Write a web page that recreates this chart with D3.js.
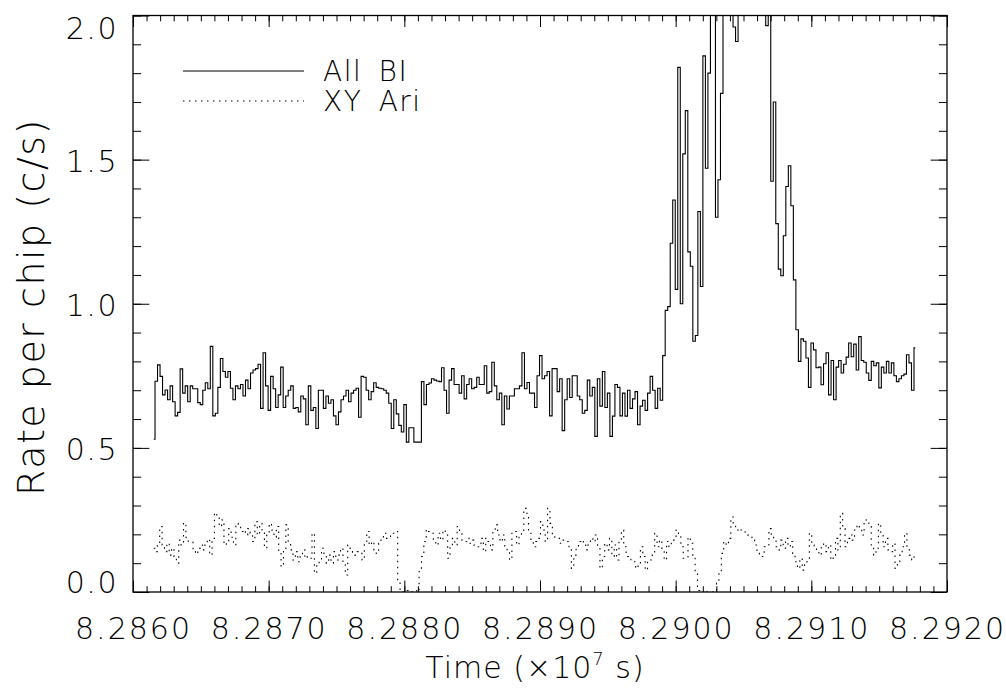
<!DOCTYPE html>
<html><head><meta charset="utf-8">
<script src="https://cdn.jsdelivr.net/npm/d3@7"></script>
<style>
html,body{margin:0;padding:0;background:#fff;}
svg{display:block;}
</style></head><body>
<svg id="chart" width="1006" height="690"></svg>
<script>
// ---------------- data ----------------
const xTickValues = [8.2860, 8.2870, 8.2880, 8.2890, 8.2900, 8.2910, 8.2920];
const xTickLabels = ["8.2860", "8.2870", "8.2880", "8.2890", "8.2900", "8.2910", "8.2920"];
const yTickValues = [0.0, 0.5, 1.0, 1.5, 2.0];
const yTickLabels = ["0.0", "0.5", "1.0", "1.5", "2.0"];
const seriesNames = ["All BI", "XY Ari"];
const xDomain = [8.2860, 8.2920];
const yDomain = [0.0, 2.0];
// first and last bin centres (x10^7 s)
const binTimeRange = [8.286153, 8.291766];

// Rate per chip (c/s), all BI chips
const allBI = [
 0.53, 0.731, 0.788, 0.748, 0.684, 0.701, 0.667, 0.715, 0.66, 0.611,
 0.623, 0.774, 0.69, 0.715, 0.66, 0.715, 0.705, 0.705, 0.657, 0.65,
 0.70, 0.726, 0.705, 0.852, 0.611, 0.62, 0.71, 0.81, 0.765, 0.745,
 0.765, 0.707, 0.667, 0.715, 0.705, 0.72, 0.68, 0.735, 0.705, 0.76,
 0.77, 0.775, 0.79, 0.637, 0.83, 0.715, 0.63, 0.748, 0.705, 0.64,
 0.684, 0.78, 0.64, 0.68, 0.70, 0.715, 0.637, 0.64, 0.625, 0.68,
 0.67, 0.58, 0.715, 0.63, 0.64, 0.567, 0.70, 0.70, 0.637, 0.68,
 0.655, 0.667, 0.611, 0.58, 0.625, 0.667, 0.68, 0.70, 0.66, 0.69,
 0.70, 0.707, 0.606, 0.748, 0.745, 0.70, 0.667, 0.695, 0.726, 0.71,
 0.707, 0.705, 0.70, 0.69, 0.655, 0.567, 0.667, 0.618, 0.578, 0.555,
 0.65, 0.52, 0.57, 0.57, 0.52, 0.52, 0.52,
 0.73, 0.65, 0.72, 0.725, 0.74, 0.735, 0.732, 0.73, 0.778, 0.70,
 0.62, 0.735, 0.775, 0.72, 0.72, 0.69, 0.75, 0.67, 0.72, 0.74,
 0.705, 0.71, 0.745, 0.72, 0.72, 0.785, 0.69, 0.695, 0.797, 0.715,
 0.667, 0.69, 0.58, 0.68, 0.635, 0.68, 0.68, 0.705, 0.705, 0.715,
 0.83, 0.705, 0.727, 0.69, 0.69, 0.64, 0.75, 0.82, 0.74, 0.75,
 0.765, 0.611, 0.775, 0.775, 0.695, 0.74, 0.56, 0.667, 0.74, 0.675,
 0.75, 0.75, 0.68, 0.667, 0.62, 0.63, 0.735, 0.68, 0.71, 0.54,
 0.74, 0.645, 0.765, 0.64, 0.69, 0.54, 0.61, 0.72, 0.71, 0.611,
 0.69, 0.61, 0.70, 0.637, 0.67, 0.695, 0.58, 0.645, 0.665, 0.63,
 0.69, 0.748, 0.70, 0.637, 0.707, 0.665, 0.82, 0.977, 0.99,
 1.21, 1.36, 1.05, 1.82, 1.00, 1.52, 1.67, 1.18, 1.13, 0.87,
 0.89, 1.32, 1.06, 1.86, 1.47, 1.80, 2.1, 2.1, 1.30, 1.43,
 1.73, 2.1, 2.1, 2.1, 2.1, 1.96, 1.91, 2.1, 2.1, 2.1,
 2.1, 2.1, 2.1, 2.1, 2.1, 2.1, 2.1, 2.1, 1.965, 2.1,
 1.425, 1.70, 1.278, 1.12, 1.097, 1.236, 1.407, 1.479, 1.34, 1.083,
 0.91, 0.80, 0.878, 0.87, 0.812, 0.71, 0.864, 0.84, 0.778, 0.78,
 0.719, 0.792, 0.83, 0.684, 0.803, 0.667, 0.78, 0.803, 0.76, 0.79,
 0.815, 0.864, 0.816, 0.86, 0.77, 0.886, 0.803, 0.797, 0.76, 0.734,
 0.80, 0.785, 0.795, 0.708, 0.78, 0.76, 0.80, 0.76, 0.795, 0.75,
 0.73, 0.74, 0.75, 0.756, 0.823, 0.795, 0.70, 0.847
];

// Rate per chip (c/s), XY Ari source region
const xyAri = [
 0.152, 0.14, 0.169, 0.227, 0.163, 0.14, 0.169, 0.128, 0.152, 0.123,
 0.10, 0.18, 0.163, 0.24, 0.19, 0.175, 0.175, 0.14, 0.132, 0.152,
 0.163, 0.146, 0.163, 0.183, 0.128, 0.186, 0.275, 0.26, 0.227, 0.25,
 0.163, 0.175, 0.22, 0.19, 0.163, 0.238, 0.227, 0.21, 0.215, 0.198,
 0.22, 0.204, 0.175, 0.244, 0.198, 0.238, 0.215, 0.152, 0.198, 0.238,
 0.215, 0.19, 0.227, 0.14, 0.088, 0.146, 0.233, 0.169, 0.146, 0.111,
 0.14, 0.105, 0.128, 0.146, 0.117, 0.123, 0.117, 0.204, 0.065, 0.10,
 0.111, 0.152, 0.123, 0.10, 0.128, 0.10, 0.14, 0.111, 0.128, 0.152,
 0.10, 0.059, 0.163, 0.14, 0.134, 0.128, 0.14, 0.134, 0.111, 0.169,
 0.21, 0.163, 0.175, 0.146, 0.134, 0.169, 0.18, 0.204, 0.186, 0.19,
 0.204, 0.204, 0.21, 0.04, 0.005, 0.0, 0.0, 0.005, 0.0, 0.0,
 0.005, 0.0, 0.07, 0.123, 0.175, 0.217, 0.21, 0.204, 0.18, 0.163,
 0.204, 0.18, 0.215, 0.198, 0.117, 0.157, 0.186, 0.163, 0.227, 0.204,
 0.18, 0.175, 0.186, 0.169, 0.18, 0.163, 0.157, 0.157, 0.186, 0.14,
 0.186, 0.175, 0.146, 0.215, 0.233, 0.198, 0.175, 0.198, 0.157, 0.146,
 0.111, 0.204, 0.21,
 0.163, 0.19, 0.21, 0.29, 0.273, 0.204, 0.175, 0.157, 0.175, 0.186,
 0.244, 0.215, 0.175, 0.29, 0.238, 0.198, 0.19, 0.186, 0.169, 0.18,
 0.175, 0.175, 0.157, 0.082, 0.128, 0.157, 0.175, 0.18, 0.169, 0.146,
 0.169, 0.186, 0.175, 0.198, 0.157, 0.082, 0.123, 0.169, 0.146, 0.186,
 0.123, 0.163, 0.111, 0.175, 0.215, 0.157, 0.123, 0.117, 0.105, 0.105,
 0.082, 0.094, 0.157, 0.123, 0.076, 0.105, 0.111, 0.128, 0.204, 0.157,
 0.18, 0.146, 0.111, 0.175, 0.157, 0.18, 0.18, 0.215, 0.198, 0.157,
 0.117, 0.117, 0.19, 0.169, 0.117, 0.07,
 0.005, 0.0, 0.0, 0.005, 0.0, 0.0, 0.0, 0.005, 0.03,
 0.07, 0.134, 0.175, 0.163, 0.186, 0.26, 0.233, 0.215, 0.21, 0.215,
 0.215, 0.204, 0.198, 0.19, 0.18, 0.163, 0.134, 0.128, 0.123, 0.157,
 0.157, 0.22, 0.198, 0.18, 0.157, 0.146, 0.18, 0.152, 0.186, 0.157,
 0.175, 0.134, 0.105, 0.082, 0.117, 0.076, 0.094, 0.117, 0.204, 0.163,
 0.152, 0.14, 0.128, 0.157, 0.169, 0.14, 0.163, 0.111, 0.128, 0.186,
 0.146, 0.273, 0.22, 0.157, 0.186, 0.198, 0.18, 0.215, 0.233, 0.22,
 0.198, 0.25, 0.25, 0.227, 0.163, 0.128, 0.152, 0.238, 0.204, 0.157,
 0.186, 0.146, 0.14, 0.169, 0.082, 0.105, 0.128, 0.157, 0.204, 0.152,
 0.128, 0.111, 0.128
];

// ---------------- drawing ----------------
const FONT = '"DejaVu Sans", "Liberation Sans", sans-serif';
const svg = d3.select("#chart");
const plot = {left: 133, right: 947, top: 15.5, bottom: 592};

const x = d3.scaleLinear().domain(xDomain).range([plot.left, plot.right]);
const y = d3.scaleLinear().domain(yDomain).range([plot.bottom, plot.top]);

const xMinor = d3.range(0, 61).map(i => xDomain[0] + i * 0.0001);
const yMinor = d3.range(0, 21).map(i => i * 0.1);

const xMajLen = 11.5, xMinLen = 5.8, yMajLen = 16.3, yMinLen = 8.1;

function styleAxis(g) {
  g.select(".domain").remove();
  g.attr("font-family", FONT).attr("font-size", 30).attr("font-weight", 200);
  g.selectAll("line").attr("stroke", "#000").attr("stroke-width", 1);
  g.selectAll("text").attr("fill", "#000");
}

// bottom axis
svg.append("g").attr("transform", `translate(0,${plot.bottom})`)
  .call(d3.axisBottom(x).tickValues(xMinor).tickFormat("").tickSizeInner(-xMinLen).tickSizeOuter(0))
  .call(styleAxis);
const gxb = svg.append("g").attr("transform", `translate(0,${plot.bottom})`)
  .call(d3.axisBottom(x).tickValues(xTickValues).tickFormat((d, i) => xTickLabels[i])
        .tickSizeInner(-xMajLen).tickSizeOuter(0).tickPadding(26))
  .call(styleAxis);
gxb.selectAll("text").attr("letter-spacing", 2);
// top axis
svg.append("g").attr("transform", `translate(0,${plot.top})`)
  .call(d3.axisTop(x).tickValues(xMinor).tickFormat("").tickSizeInner(-xMinLen).tickSizeOuter(0))
  .call(styleAxis);
svg.append("g").attr("transform", `translate(0,${plot.top})`)
  .call(d3.axisTop(x).tickValues(xTickValues).tickFormat("").tickSizeInner(-xMajLen).tickSizeOuter(0))
  .call(styleAxis);
// left axis
svg.append("g").attr("transform", `translate(${plot.left},0)`)
  .call(d3.axisLeft(y).tickValues(yMinor).tickFormat("").tickSizeInner(-yMinLen).tickSizeOuter(0))
  .call(styleAxis);
const gyl = svg.append("g").attr("transform", `translate(${plot.left},0)`)
  .call(d3.axisLeft(y).tickValues(yTickValues).tickFormat((d, i) => yTickLabels[i])
        .tickSizeInner(-yMajLen).tickSizeOuter(0).tickPadding(15))
  .call(styleAxis);
// end labels are kept inside the axis span (bottom one sits on the axis, top one hangs below it)
gyl.selectAll("text")
  .attr("letter-spacing", 1.5)
  .attr("dy", d => d === yDomain[0] ? "0em" : (d === yDomain[1] ? "0.75em" : "0.38em"));
// right axis
svg.append("g").attr("transform", `translate(${plot.right},0)`)
  .call(d3.axisRight(y).tickValues(yMinor).tickFormat("").tickSizeInner(-yMinLen).tickSizeOuter(0))
  .call(styleAxis);
svg.append("g").attr("transform", `translate(${plot.right},0)`)
  .call(d3.axisRight(y).tickValues(yTickValues).tickFormat("").tickSizeInner(-yMajLen).tickSizeOuter(0))
  .call(styleAxis);

// frame
svg.append("rect")
  .attr("x", plot.left).attr("y", plot.top)
  .attr("width", plot.right - plot.left).attr("height", plot.bottom - plot.top)
  .attr("fill", "none").attr("stroke", "#000").attr("stroke-width", 1.3);

// clip
svg.append("clipPath").attr("id", "clip").append("rect")
  .attr("x", plot.left).attr("y", plot.top)
  .attr("width", plot.right - plot.left).attr("height", plot.bottom - plot.top);

function stepLine(values) {
  const dt = (binTimeRange[1] - binTimeRange[0]) / (values.length - 1);
  return d3.line()
    .x((d, i) => x(binTimeRange[0] + i * dt))
    .y(d => y(d))
    .curve(d3.curveStep)(values);
}

const gData = svg.append("g").attr("clip-path", "url(#clip)");
gData.append("path").attr("d", stepLine(allBI))
  .attr("fill", "none").attr("stroke", "#000").attr("stroke-width", 1.1);
gData.append("path").attr("d", stepLine(xyAri))
  .attr("fill", "none").attr("stroke", "#000").attr("stroke-width", 1.1)
  .attr("stroke-dasharray", "1.5,4.5");

// legend
const legend = svg.append("g").attr("font-family", FONT).attr("font-weight", 200)
  .attr("font-size", 28).attr("letter-spacing", 1.5).attr("word-spacing", 6);
const legendY = [71, 101];
const legendDash = [null, "1.5,4.5"];
seriesNames.forEach((name, i) => {
  legend.append("line").attr("x1", 183).attr("x2", 304)
    .attr("y1", legendY[i]).attr("y2", legendY[i])
    .attr("stroke", "#000").attr("stroke-width", 1.1)
    .attr("stroke-dasharray", legendDash[i]);
  legend.append("text").attr("x", 323).attr("y", legendY[i] + 10).attr("fill", "#000").text(name);
});

// axis titles
svg.append("text")
  .attr("transform", `translate(44,307) rotate(-90)`)
  .attr("text-anchor", "middle").attr("font-family", FONT).attr("font-weight", 200)
  .attr("font-size", 38).attr("letter-spacing", 1.5).attr("fill", "#000")
  .text("Rate per chip (c/s)");

const xt = svg.append("text")
  .attr("x", 535).attr("y", 678)
  .attr("text-anchor", "middle").attr("font-family", FONT).attr("font-weight", 200)
  .attr("font-size", 30).attr("letter-spacing", 1).attr("fill", "#000");
xt.append("tspan").text("Time (×10");
xt.append("tspan").attr("font-size", 18).attr("dy", -13).text("7");
xt.append("tspan").attr("dy", 13).text(" s)");
</script>
</body></html>
